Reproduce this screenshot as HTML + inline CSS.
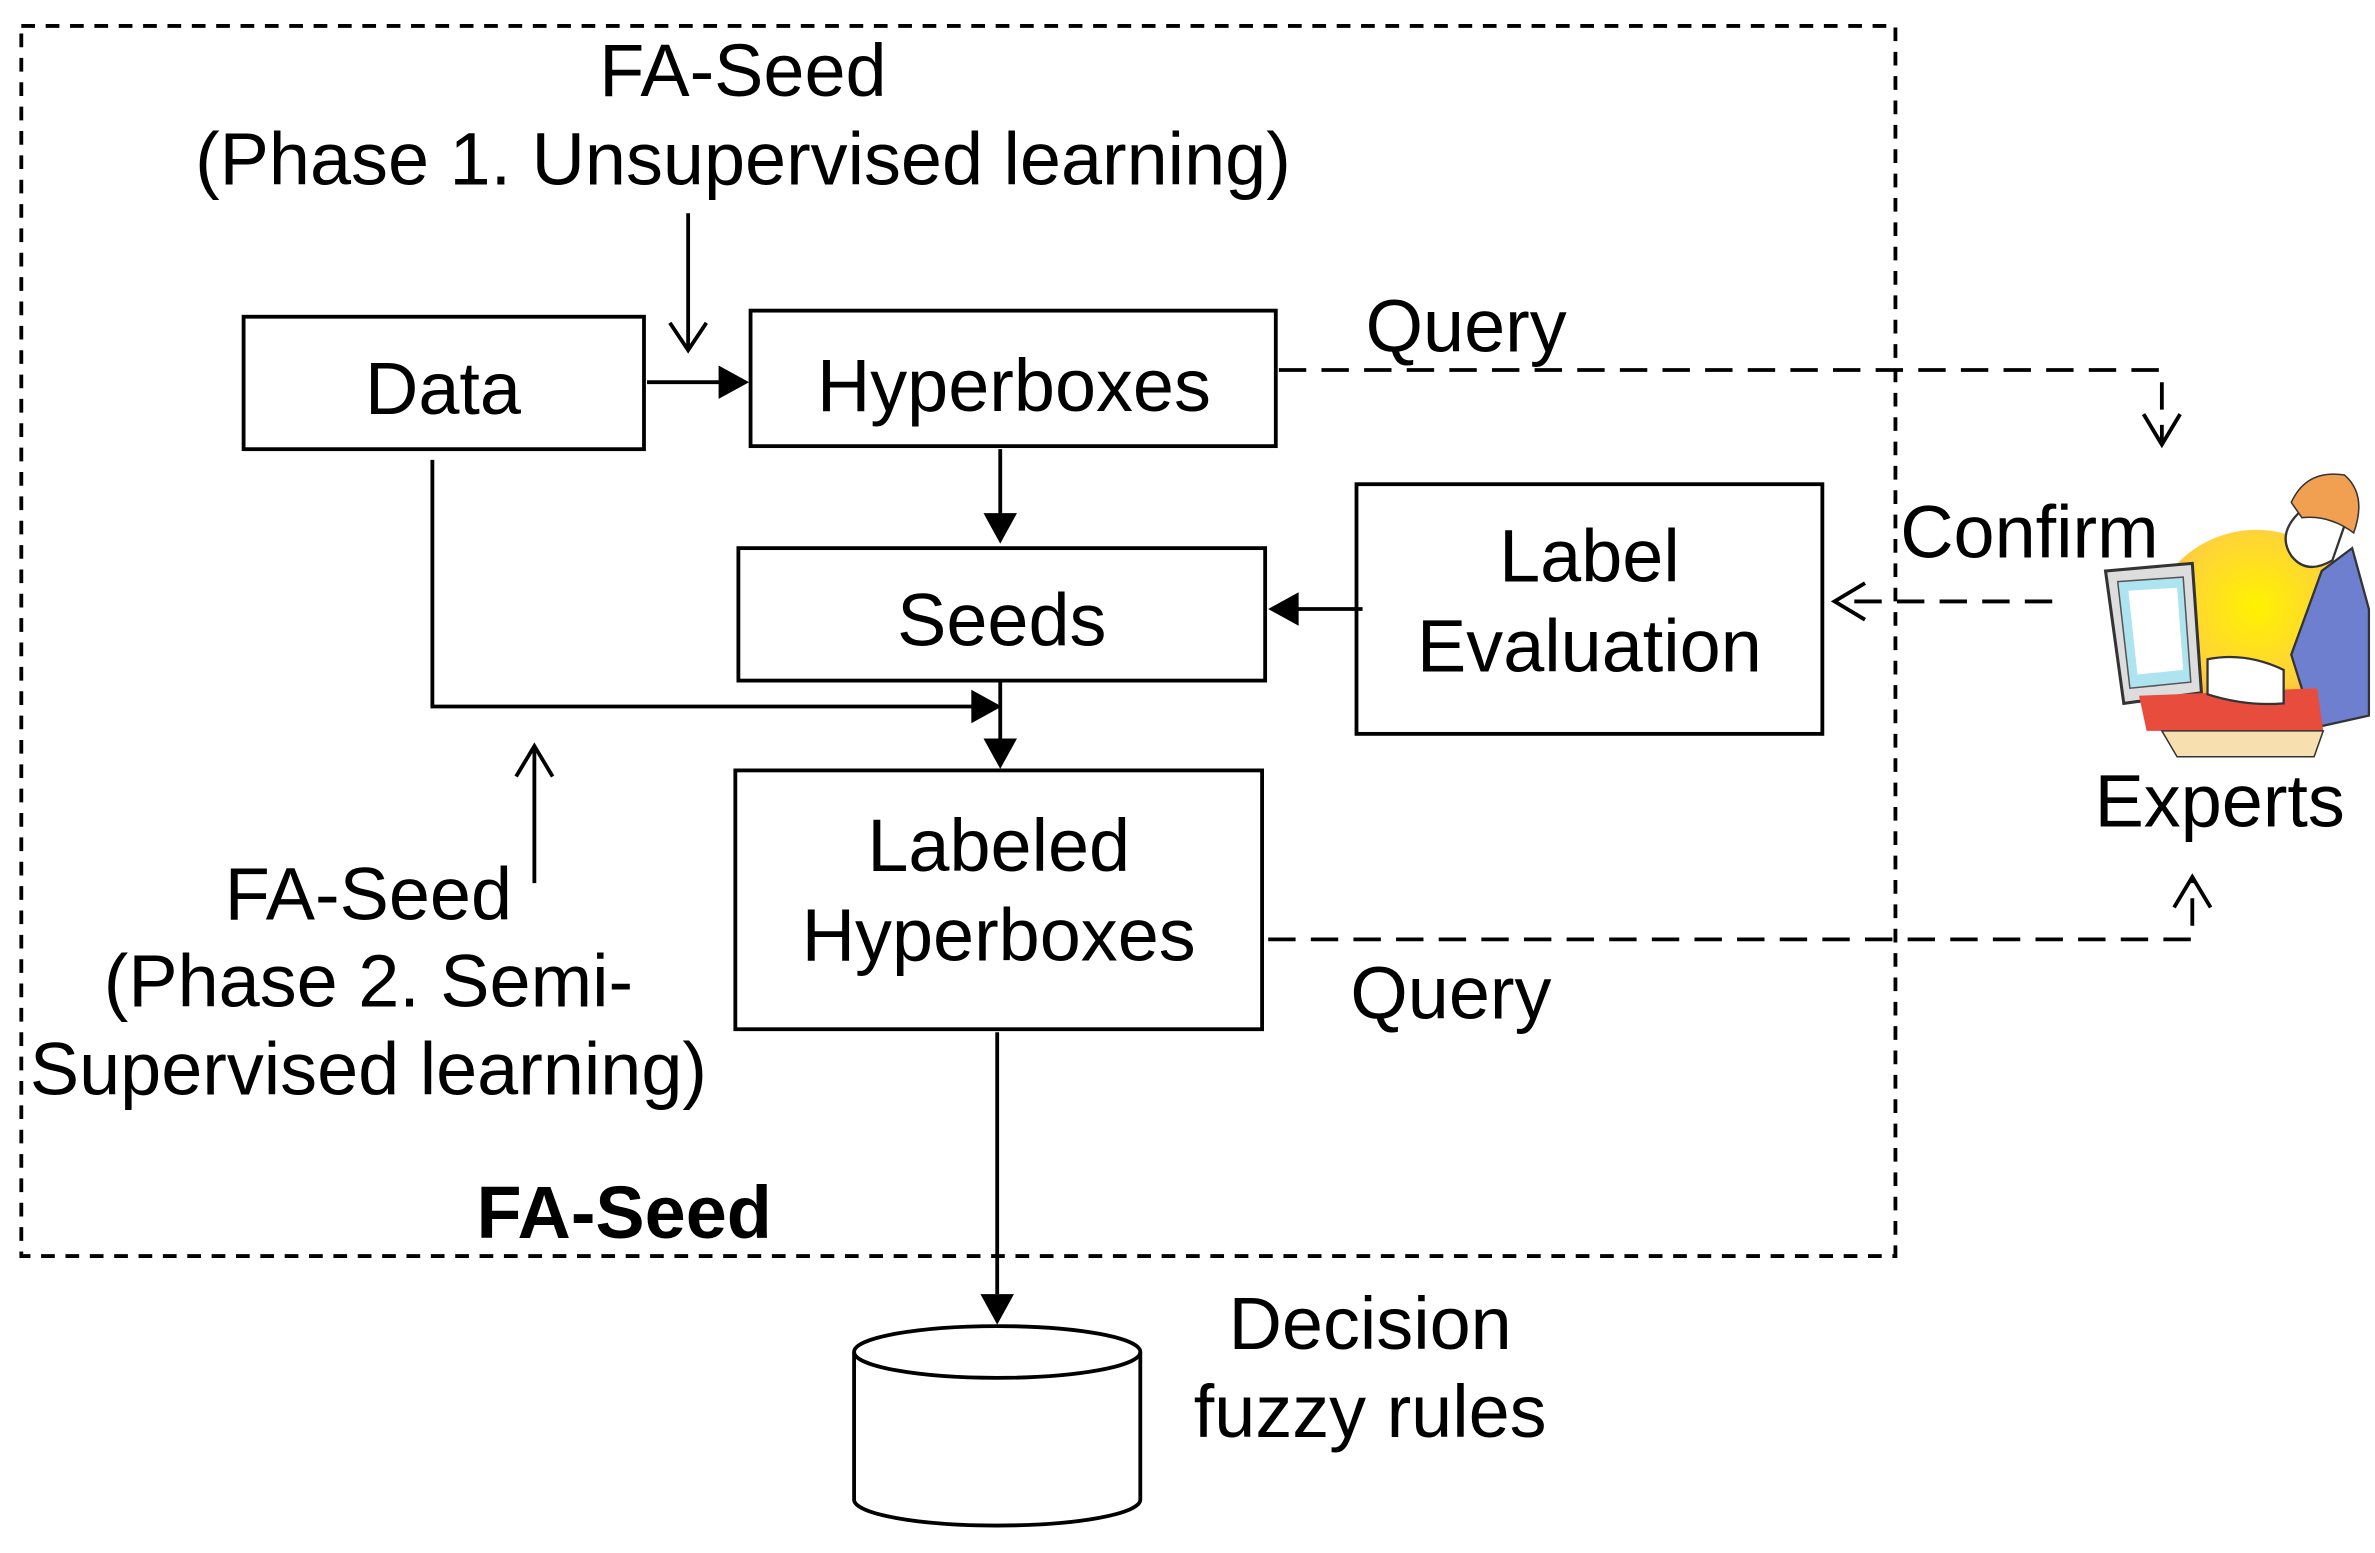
<!DOCTYPE html>
<html><head><meta charset="utf-8"><style>
html,body{margin:0;padding:0;background:#fff;}
svg{display:block;}
text{font-family:"Liberation Sans",Arial,sans-serif;font-size:48.5px;fill:#000;}
</style></head><body>
<svg width="2375" height="1553" viewBox="0 0 1560 1020" xmlns="http://www.w3.org/2000/svg">
<defs>
<radialGradient id="sun" cx="0.5" cy="0.35" r="0.6"><stop offset="0" stop-color="#fff200"/><stop offset="0.6" stop-color="#ffd23a"/><stop offset="1" stop-color="#ff9a3a"/></radialGradient>
</defs>
<rect width="1560" height="1020" fill="#fff"/>
<g fill="none" stroke="#000" stroke-width="2.5">
<rect x="14" y="17" width="1231" height="808" stroke-dasharray="9,7"/>
<rect x="160" y="208" width="263" height="87"/>
<rect x="493" y="204" width="345" height="89"/>
<rect x="485" y="360" width="346" height="87"/>
<rect x="891" y="318" width="306" height="164"/>
<rect x="483" y="506" width="346" height="170"/>
<line x1="452" y1="140" x2="452" y2="228"/>
<polyline points="440,212 452,230 464,212"/>
<line x1="425" y1="251" x2="475" y2="251"/>
<line x1="657" y1="295" x2="657" y2="338"/>
<line x1="895" y1="400" x2="852" y2="400"/>
<polyline points="284,302 284,464 640,464"/>
<line x1="657" y1="447" x2="657" y2="485"/>
<line x1="351" y1="580" x2="351" y2="492"/>
<polyline points="339,510 351,490 363,510"/>
<line x1="655" y1="678" x2="655" y2="850"/>
<g stroke-dasharray="18,10">
<polyline points="840,243 1420,243 1420,290"/>
<line x1="1348" y1="395" x2="1208" y2="395"/>
<polyline points="833,617 1440,617 1440,578"/>
</g>
<polyline points="1408,272 1420,292 1432,272"/>
<polyline points="1225,383 1205,395 1225,407"/>
<polyline points="1428,596 1440,576 1452,596"/>
<path d="M561,888 L561,985 A94,17 0 0 0 749,985 L749,888"/>
<ellipse cx="655" cy="888" rx="94" ry="17"/>
</g>
<g fill="#000">
<polygon points="492,251 472,240 472,262"/>
<polygon points="657,357 646,337 668,337"/>
<polygon points="833,400 853,389 853,411"/>
<polygon points="658,464 638,453 638,475"/>
<polygon points="657,505 646,485 668,485"/>
<polygon points="655,870 644,850 666,850"/>
</g>
<g>
<circle cx="1482" cy="420" r="72" fill="url(#sun)"/>
<path d="M1525,375 L1545,360 L1556,400 L1556,470 L1520,478 L1505,430 Z" fill="#6f7fd0" stroke="#333" stroke-width="1.5"/>
<path d="M1512,335 Q1495,350 1505,365 Q1515,378 1532,368 L1540,345 Z" fill="#fff" stroke="#333" stroke-width="1.5"/>
<path d="M1505,330 Q1515,308 1540,312 Q1555,325 1546,350 Q1530,338 1512,340 Z" fill="#f0a050" stroke="#333" stroke-width="1"/>
<path d="M1383,375 L1440,370 L1446,455 L1395,462 Z" fill="#ddd" stroke="#333" stroke-width="2"/>
<path d="M1391,382 L1434,379 L1439,448 L1399,452 Z" fill="#aee3f0" stroke="#555" stroke-width="1"/>
<path d="M1398,388 L1430,386 L1434,440 L1404,443 Z" fill="#fff"/>
<path d="M1405,457 L1522,452 L1526,480 L1410,480 Z" fill="#e84c3c"/>
<path d="M1420,480 L1526,480 L1520,497 L1430,497 Z" fill="#f7dfb0" stroke="#333" stroke-width="1"/>
<path d="M1450,433 Q1475,428 1500,440 L1500,462 Q1475,464 1450,456 Z" fill="#fff" stroke="#333" stroke-width="1.5"/>
</g>
<g text-anchor="middle">
<text x="488" y="63">FA-Seed</text>
<text x="488" y="121">(Phase 1. Unsupervised learning)</text>
<text x="291" y="272">Data</text>
<text x="666" y="270">Hyperboxes</text>
<text x="658" y="424">Seeds</text>
<text x="1044" y="382">Label</text>
<text x="1044" y="441">Evaluation</text>
<text x="656" y="572">Labeled</text>
<text x="656" y="631">Hyperboxes</text>
<text x="963" y="231">Query</text>
<text x="1333" y="366">Confirm</text>
<text x="1458" y="543">Experts</text>
<text x="953" y="669">Query</text>
<text x="242" y="604">FA-Seed</text>
<text x="242" y="661">(Phase 2. Semi-</text>
<text x="242" y="719">Supervised learning)</text>
<text x="410" y="813" font-weight="bold">FA-Seed</text>
<text x="900" y="886">Decision</text>
<text x="900" y="944">fuzzy rules</text>
</g>
</svg>
</body></html>
